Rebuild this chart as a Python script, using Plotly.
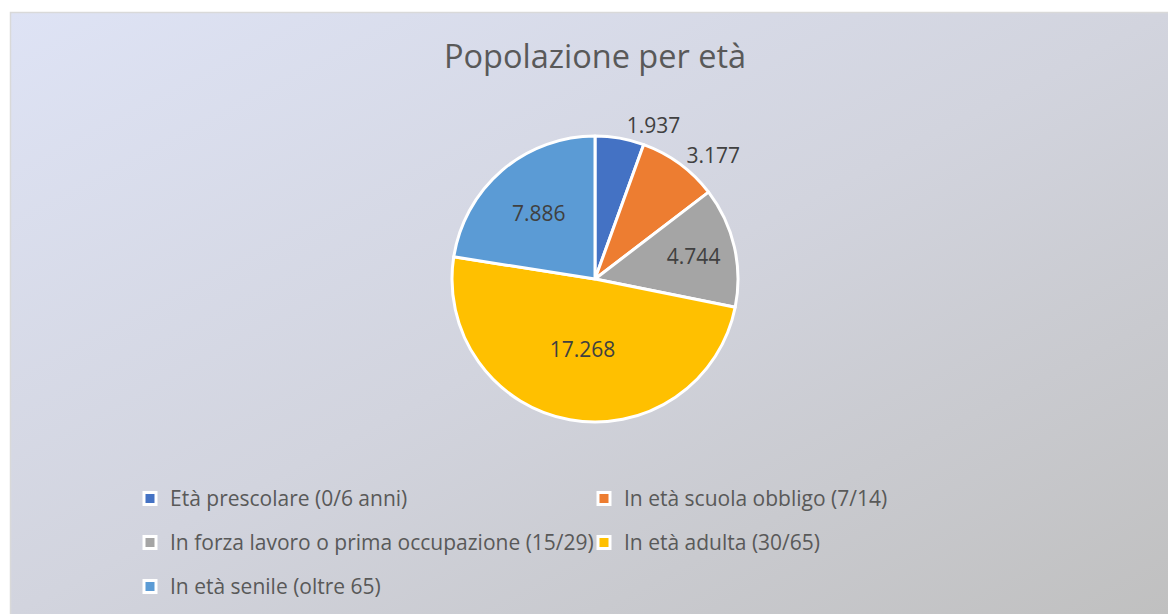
import base64
import plotly.graph_objects as go

# ---- data ----
categories = [
    "Età prescolare (0/6 anni)",
    "In età scuola obbligo (7/14)",
    "In forza lavoro o prima occupazione (15/29)",
    "In età adulta (30/65)",
    "In età senile (oltre 65)",
]
values = [1937, 3177, 4744, 17268, 7886]
colors = ["#4472C4", "#ED7D31", "#A5A5A5", "#FFC000", "#5B9BD5"]
label_positions = ["outside", "outside", "inside", "inside", "inside"]
title_text = "Popolazione per età"

W, H = 1168, 614
FONT = "Open Sans"
LEGEND_TEXT_SIZE = 21

# legend labels rendered at a smaller size inside a taller legend row
legend_labels = [
    f'<span style="font-size:{LEGEND_TEXT_SIZE}px;baseline-shift:5px">{c}</span>'
    for c in categories
]

svg = (
    f'<svg xmlns="http://www.w3.org/2000/svg" width="{W}" height="{H}" '
    'viewBox="0 0 100 100" preserveAspectRatio="none"><defs>'
    '<linearGradient id="g" x1="0" y1="0" x2="1" y2="1">'
    '<stop offset="0" stop-color="#DEE3F5"/>'
    '<stop offset="0.5" stop-color="#D2D4DE"/>'
    '<stop offset="1" stop-color="#C0C0C0"/>'
    '</linearGradient></defs><rect width="100" height="100" fill="url(#g)"/></svg>'
)
bg_src = "data:image/svg+xml;base64," + base64.b64encode(svg.encode()).decode()

cx, cy, r = 595, 279, 143

fig = go.Figure(
    go.Pie(
        labels=legend_labels,
        values=values,
        sort=False,
        direction="clockwise",
        rotation=0,
        marker=dict(colors=colors, line=dict(color="white", width=3)),
        texttemplate="%{value:,}",
        textposition=label_positions,
        insidetextorientation="horizontal",
        textfont=dict(family=FONT, size=21, color="#404040"),
        insidetextfont=dict(family=FONT, size=21, color="#404040"),
        outsidetextfont=dict(family=FONT, size=21, color="#404040"),
        domain=dict(
            x=[(cx - r) / W, (cx + r) / W],
            y=[(H - cy - r) / H, (H - cy + r) / H],
        ),
        hoverinfo="label+value+percent",
    )
)

fig.update_layout(
    width=W,
    height=H,
    margin=dict(l=0, r=0, t=0, b=0, autoexpand=False),
    paper_bgcolor="white",
    separators=",.",
    title=dict(
        text=title_text,
        x=cx / W,
        xanchor="center",
        y=1 - 57 / H,
        yanchor="middle",
        font=dict(family=FONT, size=32.5, color="#595959"),
    ),
    legend=dict(
        orientation="h",
        x=130 / W,
        xanchor="left",
        y=1 - 471.5 / H,
        yanchor="top",
        entrywidth=409,
        entrywidthmode="pixels",
        font=dict(family=FONT, size=31.5, color="#595959"),
        bgcolor="rgba(0,0,0,0)",
    ),
    images=[
        dict(
            source=bg_src,
            xref="paper",
            yref="paper",
            x=10 / W,
            y=1 - 12 / H,
            sizex=(W - 10) / W,
            sizey=(H - 12) / H,
            xanchor="left",
            yanchor="top",
            sizing="stretch",
            layer="below",
        )
    ],
    shapes=[
        dict(
            type="rect",
            xref="paper",
            yref="paper",
            x0=10.5 / W,
            x1=1.01,
            y0=-0.01,
            y1=1 - 12.5 / H,
            line=dict(color="#D9D9D9", width=1.5),
            fillcolor="rgba(0,0,0,0)",
            layer="below",
        )
    ],
)

fig.write_html("out.html")
